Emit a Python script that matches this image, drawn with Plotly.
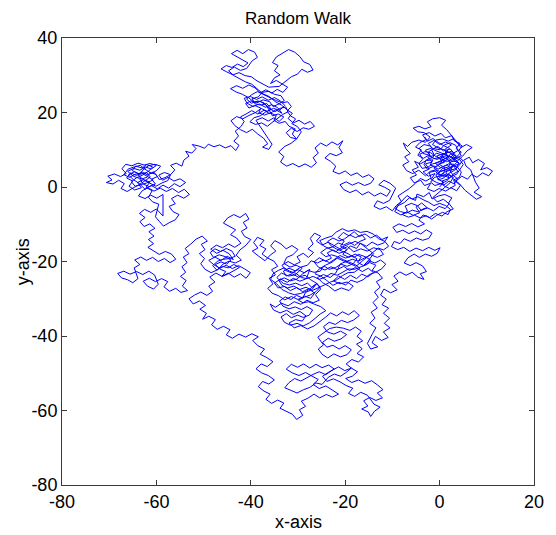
import plotly.graph_objects as go

# Traced positions of the 2-D random walk, grouped by the region of the plane they wander through.
right_cluster = [
    (0, 0), (0.9, 1.3), (-0.4, 2.1), (0.7, 3.2), (2.0, 2.5), (1.3, 4.1), (2.7, 4.7), (1.6, 5.9), (0.2, 5.2),
    (-0.9, 6.4), (0.4, 7.1), (-0.6, 8.3), (0.9, 9.0), (2.1, 7.7), (3.1, 8.9), (2.3, 10.2), (0.8, 9.7),
    (-0.4, 10.9), (-1.7, 10.0), (-1.1, 8.5), (-2.5, 8.0), (-1.6, 6.7), (-3.0, 6.2), (-2.2, 4.8), (-3.5, 4.1),
    (-2.4, 2.9), (-1.0, 3.6), (-1.8, 2.0), (-0.6, 1.2), (0.9, 0.5), (2.0, 1.6), (3.1, 0.8), (3.8, 2.2),
    (2.7, 3.3), (3.9, 4.2), (3.0, 5.6), (4.2, 6.3), (3.3, 7.5), (1.9, 6.9), (2.8, 5.7), (1.4, 4.7), (0.1, 4.1),
    (-1.2, 5.0), (-0.3, 6.1), (1.0, 6.6), (0.3, 8.1), (1.6, 8.4), (1.1, 10.1), (2.5, 11.3), (1.3, 12.1),
    (0.0, 11.4), (-1.2, 12.5), (-2.4, 11.7), (-1.6, 10.5), (-3.0, 9.9), (-2.1, 8.7), (-3.4, 7.7), (-4.6, 8.5),
    (-3.9, 10.0), (-5.1, 10.7), (-4.2, 11.9), (-2.9, 12.7), (-3.6, 14.0), (-2.2, 14.6), (-1.0, 13.7),
    (0.3, 14.4), (1.2, 13.2), (2.6, 13.8), (3.1, 12.4), (4.3, 11.7), (3.5, 10.3), (4.6, 9.4), (3.7, 8.2),
    (2.3, 8.9), (1.6, 7.3), (0.4, 6.5), (-0.7, 5.4), (-2.0, 5.9), (-1.4, 7.3), (-2.8, 7.1), (-4.1, 6.2),
    (-5.3, 6.9), (-4.5, 5.3), (-5.8, 4.6), (-4.9, 3.2), (-6.2, 2.5), (-5.4, 1.1), (-4.0, 1.8), (-3.2, 0.4),
    (-1.9, 1.0), (-2.6, -0.5), (-1.2, -1.2), (-0.1, -0.4), (1.3, -1.1), (2.4, -0.2), (3.6, -1.0), (4.4, 0.4),
    (3.4, 1.5), (4.7, 2.9), (5.9, 2.1), (6.8, 3.4), (7.9, 2.6), (9.1, 3.8), (10.4, 3.0), (11.2, 4.3),
    (10.0, 5.2), (8.7, 4.6), (9.5, 6.3), (8.2, 7.4), (7.0, 6.5), (6.3, 8.0), (5.1, 7.2), (5.6, 5.6),
    (6.6, 4.6), (7.6, 1.3), (8.4, -0.3), (7.3, -1.4), (8.9, -2.6), (7.8, -3.3), (6.5, -2.0), (5.4, -0.9),
    (4.2, 0.9), (3.0, 2.0), (2.1, 3.4), (0.8, 2.8), (-0.3, 3.5), (0.5, 4.9), (1.9, 5.4), (2.4, 6.8),
    (3.8, 7.0), (4.9, 8.3), (5.8, 9.7), (6.9, 10.6), (5.7, 11.4), (4.5, 10.6), (3.6, 12.2), (2.4, 13.9),
    (1.5, 15.4), (0.4, 16.6), (1.3, 17.9), (0.0, 18.6), (-1.5, 18.3), (-2.6, 17.5), (-1.8, 16.2),
    (-3.1, 15.6), (-4.4, 16.3), (-5.6, 15.8), (-4.6, 14.8), (-3.3, 14.6), (-2.0, 13.4), (-3.0, 12.0),
    (-4.4, 12.6), (-5.9, 12.0), (-6.8, 10.9), (-7.7, 11.8), (-7.1, 10.2), (-6.2, 9.0), (-7.4, 8.1),
    (-6.5, 6.8), (-7.8, 5.9), (-7.0, 4.4), (-5.7, 3.6), (-4.4, 4.5), (-3.0, 3.0), (-2.0, 4.2), (-0.8, 4.6),
    (0.3, 3.0), (1.5, 3.5), (2.9, 2.6), (2.2, 1.1), (1.0, -0.2), (-0.3, -1.5), (-1.4, -2.8), (-0.5, -4.0),
    (0.8, -3.3), (2.0, -4.5), (1.2, -5.8), (-0.1, -5.2), (-1.3, -6.4), (-2.6, -5.6),
]

right_middle = [
    (-2.6, -5.6), (-3.9, -6.3), (-4.7, -5.0), (-6.0, -4.4), (-7.3, -5.1), (-6.8, -6.5), (-7.9, -7.4),
    (-6.6, -8.1), (-5.3, -7.6), (-4.1, -8.3), (-2.8, -7.7), (-1.7, -8.6), (-0.6, -7.6), (0.6, -6.8),
    (1.8, -7.4), (2.3, -6.0), (1.3, -5.0), (0.0, -4.4), (-1.2, -5.0), (-2.3, -4.1), (-3.5, -3.4), (-4.6, -2.6),
    (-5.8, -3.2), (-6.9, -2.3), (-7.8, -3.5), (-8.6, -4.7), (-9.4, -5.8), (-8.3, -6.6), (-7.0, -7.0),
    (-5.8, -6.2), (-4.5, -6.7), (-3.4, -5.8), (-2.6, -5.6),
]

right_descent = [
    (-2.6, -5.6), (-3.8, -4.3), (-5.0, -5.4), (-4.2, -6.9), (-5.6, -7.6), (-6.9, -6.7), (-8.2, -7.5),
    (-9.5, -6.6), (-8.8, -5.0), (-7.5, -4.2), (-6.4, -2.9), (-5.1, -3.6), (-4.8, -1.9), (-3.4, -2.6),
    (-2.2, -1.5), (-1.6, -3.2), (-0.2, -2.4), (1.1, -2.0), (2.6, -2.9), (1.9, -4.3), (2.9, -5.9), (1.6, -6.6),
    (0.5, -7.8), (-0.9, -7.1), (-2.1, -8.2), (-3.5, -7.5), (-4.4, -8.9), (-3.2, -9.9), (-4.6, -10.7),
    (-5.9, -9.8), (-7.2, -10.6), (-8.6, -9.9), (-9.9, -10.8), (-9.1, -12.2), (-7.8, -11.6), (-6.5, -12.5),
    (-5.3, -11.8), (-4.0, -12.6), (-2.8, -11.5), (-1.6, -12.4), (-2.3, -13.8), (-3.6, -14.3), (-4.9, -13.7),
    (-6.2, -14.6), (-7.5, -13.9), (-8.4, -15.2), (-9.6, -14.6), (-10.2, -16.0), (-8.9, -16.8), (-7.6, -16.2),
    (-6.3, -17.3), (-5.0, -16.4), (-3.6, -17.1), (-2.3, -16.2), (-1.0, -17.0), (0.1, -16.3), (-0.5, -17.8),
    (-1.7, -18.6), (-3.0, -18.0), (-4.3, -18.9), (-5.4, -18.0), (-6.7, -19.0), (-7.5, -20.4), (-6.2, -21.1),
    (-5.0, -20.3), (-3.6, -21.2), (-2.8, -22.7), (-4.1, -23.3), (-3.3, -24.8), (-4.6, -24.2), (-5.8, -22.9),
    (-7.1, -23.7), (-8.4, -22.8), (-9.7, -23.9), (-8.8, -25.3), (-10.1, -26.2), (-9.0, -27.6), (-10.4, -28.4),
    (-11.8, -27.4), (-12.5, -29.0), (-11.3, -30.1), (-12.2, -31.6), (-10.8, -32.5), (-11.9, -33.9),
    (-10.6, -35.2), (-11.7, -36.6), (-10.5, -37.8), (-11.9, -38.9), (-10.9, -40.4), (-12.3, -41.2),
    (-13.6, -40.1), (-14.3, -41.8), (-13.1, -42.9), (-14.6, -43.5), (-15.3, -42.0), (-14.2, -39.3),
    (-13.5, -37.8), (-14.8, -36.6), (-13.7, -35.2), (-14.5, -33.6), (-13.2, -32.5), (-14.1, -31.0),
    (-13.0, -29.6), (-13.8, -28.2), (-12.6, -26.9), (-13.4, -25.4), (-12.1, -24.5), (-13.0, -23.1),
    (-14.3, -22.4), (-13.5, -21.0), (-14.8, -20.3), (-16.1, -21.1),
]

middle_right_core = [
    (-16.1, -21.1), (-15.0, -19.8), (-13.7, -20.4), (-12.5, -19.6), (-11.4, -20.7), (-12.3, -22.0),
    (-13.6, -22.9), (-14.9, -23.5), (-16.2, -24.9), (-17.5, -25.6), (-18.8, -25.0), (-19.9, -26.3),
    (-21.3, -25.6), (-22.6, -26.4), (-23.9, -25.1), (-25.1, -24.0), (-26.4, -23.3), (-25.5, -22.0),
    (-24.2, -21.0), (-22.8, -20.2), (-21.7, -19.1), (-20.3, -19.8), (-19.0, -20.6), (-17.7, -21.3),
    (-16.5, -20.0), (-15.4, -18.9), (-14.2, -17.6), (-13.0, -16.4), (-11.9, -16.9), (-10.8, -15.9),
    (-11.6, -14.6), (-12.9, -13.9), (-14.1, -12.6), (-15.4, -11.9), (-16.8, -12.2), (-18.0, -11.5),
    (-19.4, -11.9), (-20.6, -11.2), (-21.9, -12.1), (-22.8, -13.2), (-24.1, -13.7), (-25.4, -14.4),
    (-24.6, -15.8), (-23.3, -16.5), (-22.0, -17.4), (-20.6, -16.1), (-19.2, -15.4), (-17.9, -14.6),
    (-16.6, -15.3), (-15.3, -16.6), (-14.0, -17.9), (-14.8, -19.3), (-16.1, -21.1),
]

middle_right = [
    (-16.1, -21.1), (-17.4, -20.2), (-16.6, -18.8), (-17.9, -18.0), (-19.2, -18.9), (-20.5, -18.1),
    (-19.7, -16.7), (-21.0, -15.9), (-20.2, -14.5), (-21.5, -13.6), (-20.4, -12.2), (-19.2, -13.1),
    (-18.1, -12.0), (-17.0, -13.3), (-15.8, -12.6), (-14.6, -13.7), (-13.4, -12.9), (-12.2, -14.1),
    (-11.0, -13.4), (-11.8, -15.0), (-13.1, -15.6), (-14.3, -14.8), (-15.5, -15.9), (-16.8, -15.1),
    (-17.6, -16.5), (-18.9, -15.8), (-19.9, -17.2), (-21.3, -17.8), (-22.6, -16.9), (-23.8, -17.7),
    (-22.9, -19.1), (-24.2, -19.9), (-25.5, -19.0), (-26.6, -20.1), (-25.7, -21.5), (-24.3, -22.3),
    (-23.0, -21.4), (-21.7, -22.2), (-20.3, -21.3), (-19.1, -22.4), (-17.8, -21.6), (-16.4, -22.7),
    (-15.1, -21.8), (-14.0, -23.0), (-15.2, -24.1), (-16.5, -23.4), (-17.6, -24.6), (-18.9, -23.7),
    (-20.1, -24.8), (-21.4, -23.9), (-22.5, -25.2), (-21.1, -26.0), (-19.6, -25.5), (-18.3, -26.6),
    (-19.2, -27.8), (-20.8, -27.1), (-22.2, -27.9), (-23.5, -26.6), (-24.8, -25.7), (-25.9, -24.3),
    (-24.6, -23.5), (-23.2, -24.3), (-22.0, -23.1), (-21.0, -20.6), (-19.8, -20.0), (-18.5, -19.4),
    (-17.2, -19.9), (-15.9, -19.1), (-14.6, -18.2), (-13.2, -18.9), (-11.9, -18.1), (-12.6, -16.8),
    (-14.0, -16.3), (-15.3, -17.2), (-16.7, -16.6), (-18.2, -17.4), (-19.5, -16.0), (-20.9, -16.8),
    (-22.3, -15.7), (-23.6, -14.8), (-24.9, -15.6), (-26.1, -14.5), (-25.2, -13.2), (-26.5, -12.4),
    (-27.4, -13.8), (-26.8, -15.3), (-27.9, -16.6), (-26.7, -17.6), (-27.8, -18.9), (-28.9, -17.8),
]

middle_center = [
    (-28.9, -17.8), (-30.2, -18.7), (-29.5, -20.1), (-30.8, -20.9), (-32.1, -20.0), (-33.4, -21.0),
    (-32.6, -22.4), (-31.3, -23.1), (-30.0, -22.2), (-28.7, -23.0), (-27.5, -22.1), (-28.2, -24.6),
    (-29.6, -25.3), (-31.0, -24.5), (-32.3, -25.6), (-33.7, -24.7), (-35.0, -25.8), (-34.2, -27.1),
    (-32.9, -26.7), (-31.6, -27.8), (-30.3, -27.0), (-29.0, -28.1), (-27.7, -27.3), (-26.5, -28.5),
    (-27.3, -29.9), (-28.6, -29.3), (-30.0, -30.2), (-31.4, -29.4), (-32.8, -30.3), (-34.1, -29.2),
    (-35.5, -28.5), (-36.4, -27.2), (-35.3, -26.0), (-36.1, -24.5), (-34.8, -23.6), (-35.6, -22.2),
    (-34.3, -21.3), (-35.1, -19.9), (-36.4, -19.1), (-37.6, -18.0), (-36.8, -16.6), (-38.1, -15.7),
    (-37.2, -14.3), (-38.6, -13.5), (-39.4, -14.9), (-38.5, -16.4), (-39.7, -17.2), (-38.3, -18.6),
    (-37.0, -19.8), (-35.9, -18.3), (-34.7, -17.2), (-35.8, -15.8), (-34.9, -14.4), (-33.6, -15.3),
    (-32.5, -16.6), (-31.3, -15.7), (-30.0, -16.8), (-31.1, -18.2), (-32.4, -18.9), (-33.0, -20.5),
    (-31.7, -21.5), (-30.4, -21.0), (-29.1, -21.8), (-30.6, -23.6), (-32.0, -23.9), (-33.5, -23.1),
    (-34.5, -24.3), (-33.1, -25.9), (-31.8, -26.3), (-30.5, -25.8), (-29.2, -26.5), (-28.0, -25.8),
    (-27.1, -26.9), (-26.0, -25.9),
]

middle_core = [
    (-26.0, -25.9), (-27.3, -24.9), (-28.5, -23.7), (-29.9, -24.2), (-31.2, -23.3), (-32.5, -23.9),
    (-33.1, -22.6), (-31.9, -21.8), (-30.6, -22.5), (-29.4, -21.5), (-28.0, -21.0), (-27.2, -19.8),
    (-25.9, -20.4), (-24.6, -19.6), (-23.3, -20.3), (-22.2, -19.4), (-21.1, -18.4), (-19.9, -19.1),
    (-18.6, -18.4), (-17.5, -19.3), (-18.3, -20.6), (-19.6, -21.3), (-20.9, -20.7), (-22.0, -21.6),
    (-23.4, -22.1), (-24.5, -21.2), (-25.3, -22.6), (-26.6, -22.9), (-27.9, -22.4), (-29.1, -23.4),
    (-30.2, -24.7), (-31.6, -25.2), (-32.9, -24.4), (-34.1, -25.0), (-33.4, -26.4), (-32.2, -27.1),
    (-30.9, -26.6), (-29.6, -27.5), (-28.3, -26.9), (-27.0, -27.8), (-25.8, -27.2), (-24.4, -26.3),
    (-23.1, -25.5), (-21.8, -24.9), (-20.6, -23.8), (-19.4, -23.0), (-18.1, -22.9), (-16.9, -21.8),
    (-17.8, -20.9), (-19.1, -20.3), (-20.4, -19.5), (-21.6, -18.7), (-22.9, -18.2), (-24.1, -18.7),
    (-25.2, -17.6), (-24.0, -16.5), (-22.7, -16.1), (-21.5, -15.0), (-20.3, -15.6), (-19.1, -14.8),
    (-18.0, -15.7), (-16.9, -14.6), (-15.7, -14.0), (-16.5, -12.8), (-17.8, -13.6), (-19.0, -12.9),
    (-20.1, -13.9), (-21.3, -14.5), (-22.6, -13.7), (-23.7, -14.6), (-23.0, -15.8), (-21.9, -16.6),
    (-20.7, -17.3), (-19.4, -17.9), (-18.2, -18.9), (-17.1, -18.1), (-15.8, -18.7), (-14.6, -19.6),
    (-15.4, -20.8), (-16.7, -21.4), (-18.0, -22.1), (-19.3, -22.0), (-20.5, -22.8), (-21.7, -23.7),
    (-23.0, -23.2), (-24.2, -24.2), (-25.5, -24.8), (-26.8, -24.0), (-28.1, -24.6), (-29.3, -24.3),
    (-30.4, -23.2), (-31.8, -22.6), (-32.9, -21.7), (-34.2, -22.4), (-35.3, -23.3), (-35.8, -24.8),
    (-34.6, -25.9), (-33.4, -27.5), (-32.0, -28.4), (-30.8, -28.9), (-29.5, -28.6), (-28.2, -28.0),
    (-27.0, -26.9), (-26.0, -25.9),
]

lower_core = [
    (-26.0, -25.9), (-27.1, -27.6), (-28.4, -28.3), (-29.0, -29.8), (-30.3, -29.1), (-31.5, -30.2),
    (-32.7, -29.5), (-33.9, -30.6), (-33.2, -32.0), (-31.9, -32.7), (-30.6, -32.2), (-29.3, -32.9),
    (-28.1, -32.1), (-26.9, -33.0), (-27.6, -34.4), (-28.9, -35.0), (-30.1, -34.4), (-31.4, -35.1),
    (-32.5, -34.0), (-33.6, -34.9), (-32.9, -36.3), (-31.6, -37.1), (-30.2, -36.6), (-28.9, -37.3),
    (-27.6, -36.5), (-26.4, -35.3), (-25.3, -34.1), (-24.1, -33.2), (-25.2, -32.1), (-26.5, -31.5),
    (-27.8, -30.8), (-28.9, -31.1), (-29.9, -30.4), (-28.7, -29.6), (-27.4, -29.0), (-26.2, -28.1),
    (-25.3, -26.9), (-26.0, -25.9),
]

middle_lower = [
    (-26.0, -25.9), (-25.2, -27.4), (-26.3, -28.9), (-25.5, -30.4), (-26.8, -31.1), (-28.1, -30.4),
    (-29.4, -31.5), (-30.8, -30.8), (-32.1, -31.9), (-33.5, -31.2), (-34.8, -32.3), (-35.9, -31.4),
    (-35.2, -33.0), (-33.8, -33.8), (-32.4, -33.1), (-31.0, -34.2), (-29.6, -33.4), (-28.3, -34.6),
    (-29.1, -36.0), (-30.5, -35.6), (-31.9, -36.5), (-30.8, -37.8), (-29.4, -37.2), (-28.0, -38.1),
    (-26.6, -37.3), (-25.4, -36.2), (-24.2, -35.0), (-23.1, -33.8), (-21.8, -34.6), (-20.6, -33.5),
    (-19.3, -34.3), (-18.1, -33.2), (-17.0, -34.5), (-18.2, -35.7), (-19.5, -36.4), (-20.8, -35.8),
    (-22.1, -36.9), (-23.4, -36.3), (-24.6, -37.5), (-23.8, -38.9), (-22.4, -39.5), (-21.0, -38.7),
    (-19.7, -39.6), (-20.9, -40.8), (-22.3, -41.4), (-23.6, -40.6), (-24.8, -41.7), (-23.9, -43.0),
    (-22.6, -42.5), (-21.3, -43.5), (-20.0, -42.6), (-18.7, -43.7), (-19.6, -45.0), (-21.0, -45.6),
    (-22.4, -44.8), (-23.7, -45.9), (-24.9, -44.9), (-25.7, -43.5), (-24.6, -42.4), (-25.8, -40.3),
    (-24.7, -39.2), (-23.3, -38.0), (-21.9, -37.6), (-20.4, -37.9), (-19.0, -38.5), (-17.8, -37.6),
    (-16.6, -38.7), (-17.5, -40.1), (-16.3, -41.3), (-17.6, -42.2), (-16.4, -43.4), (-17.5, -44.7),
    (-16.1, -45.6), (-17.2, -47.0), (-18.6, -46.3), (-19.8, -47.5), (-18.7, -48.6),
]

bottom_core = [
    (-18.7, -48.6), (-20.1, -49.3), (-21.4, -48.3), (-22.8, -49.2), (-24.1, -50.4), (-25.5, -49.6),
    (-26.8, -50.3), (-28.1, -51.2), (-29.4, -52.1), (-30.7, -51.4), (-31.9, -52.5), (-32.8, -53.9),
    (-31.5, -54.6), (-30.2, -55.3), (-28.8, -54.4), (-27.5, -53.8), (-26.2, -52.6), (-24.9, -53.0),
    (-23.6, -51.1), (-22.3, -50.2), (-21.0, -50.8), (-19.8, -49.8), (-18.7, -48.6),
]

bottom = [
    (-18.7, -48.6), (-17.4, -49.6), (-18.5, -50.8), (-19.9, -51.4), (-18.6, -52.5), (-17.2, -51.8),
    (-15.8, -52.7), (-14.4, -52.0), (-13.1, -53.2), (-12.0, -54.4), (-13.2, -55.3), (-12.1, -56.6),
    (-13.5, -57.3), (-14.8, -56.5), (-16.1, -57.4), (-15.2, -58.8), (-16.5, -59.6), (-15.1, -60.4),
    (-14.6, -61.6), (-13.8, -60.2), (-12.6, -59.1), (-13.9, -58.3), (-15.3, -55.9), (-16.7, -55.1),
    (-18.0, -56.2), (-19.3, -55.4), (-18.4, -54.0), (-19.8, -53.3), (-21.1, -52.3), (-22.5, -51.5),
    (-23.9, -52.2), (-24.8, -50.8), (-23.6, -49.8), (-22.3, -48.9), (-23.5, -47.8), (-24.9, -48.5),
    (-26.2, -47.6), (-27.5, -48.6), (-28.8, -47.5), (-30.1, -48.4), (-31.4, -47.6), (-32.5, -48.9),
    (-31.2, -49.9), (-29.8, -50.6), (-28.4, -49.8), (-27.0, -50.9), (-25.7, -51.7), (-26.8, -53.0),
    (-25.5, -54.1), (-24.1, -53.4), (-22.8, -54.5), (-21.4, -55.6), (-22.7, -56.4), (-24.0, -55.7),
    (-25.4, -56.6), (-26.6, -55.6), (-27.9, -56.7), (-29.3, -57.5), (-28.4, -58.9), (-29.7, -59.8),
    (-29.0, -61.3), (-30.3, -62.4), (-31.2, -61.0), (-32.5, -60.3), (-33.8, -59.4), (-33.0, -58.0),
    (-34.3, -57.2), (-35.6, -58.1), (-36.8, -57.0), (-35.9, -55.6), (-37.2, -54.8), (-38.4, -53.6),
    (-37.5, -52.2), (-36.2, -52.9), (-35.0, -51.8), (-36.3, -50.6), (-37.7, -49.9), (-38.9, -48.8),
    (-37.8, -47.5), (-36.5, -48.2), (-35.3, -46.9), (-36.6, -45.8), (-38.0, -44.9), (-37.1, -43.5),
    (-38.5, -42.6), (-39.6, -41.2), (-38.4, -40.2),
]

middle_lower_left = [
    (-38.4, -40.2), (-39.8, -39.4), (-41.1, -40.3), (-42.5, -39.5), (-43.9, -40.6), (-45.2, -39.7),
    (-44.4, -38.3), (-45.8, -37.4), (-47.1, -38.2), (-48.3, -37.0), (-47.5, -35.6), (-48.9, -34.7),
    (-50.2, -35.5), (-49.4, -33.9), (-50.8, -32.8), (-49.6, -31.8), (-50.9, -30.6), (-52.2, -31.4),
    (-53.1, -30.0), (-51.9, -29.0), (-50.6, -28.2), (-49.3, -29.1), (-48.1, -28.0), (-48.9, -26.6),
    (-47.6, -25.5), (-48.7, -24.2), (-47.4, -23.1), (-46.1, -24.0),
]

middle_left_core = [
    (-46.1, -24.0), (-45.3, -22.7), (-46.6, -22.0), (-47.5, -20.8), (-46.3, -20.1), (-45.1, -20.7),
    (-44.2, -19.6), (-45.4, -18.7), (-46.7, -18.2), (-47.9, -18.9), (-48.6, -17.6), (-47.6, -16.6),
    (-46.4, -17.3), (-45.2, -16.5), (-44.0, -17.2), (-43.3, -18.6), (-44.5, -19.2), (-45.8, -19.4),
    (-47.0, -19.9), (-48.1, -21.1), (-47.2, -22.3), (-46.0, -21.3), (-44.8, -21.7), (-43.6, -20.8),
    (-42.4, -21.6), (-43.6, -22.5), (-44.9, -23.4), (-46.1, -24.0),
]

middle_left = [
    (-46.1, -24.0), (-44.8, -23.1), (-43.5, -24.2), (-42.2, -23.3), (-41.0, -24.5), (-40.1, -23.0),
    (-41.3, -22.0), (-42.6, -21.1), (-43.9, -21.9), (-45.2, -21.0), (-46.5, -21.8), (-47.8, -20.9),
    (-48.9, -19.7), (-47.6, -18.8), (-46.3, -19.7), (-45.0, -18.6), (-43.7, -19.5), (-44.6, -17.9),
    (-45.9, -17.0), (-47.2, -17.8), (-48.5, -16.7), (-47.3, -15.6), (-46.0, -16.3), (-44.7, -15.3),
    (-43.4, -16.2), (-42.1, -15.1), (-43.0, -13.7), (-44.3, -12.8), (-43.2, -11.5), (-44.5, -10.6),
    (-45.8, -9.7), (-44.9, -8.3), (-43.6, -7.4), (-42.3, -8.2), (-41.1, -7.1), (-40.4, -8.6), (-41.6, -9.5),
    (-40.8, -11.0), (-42.0, -11.9), (-41.3, -13.3), (-40.0, -14.1), (-41.0, -15.6), (-42.3, -16.9),
    (-43.1, -18.3), (-42.0, -19.6), (-43.3, -20.4), (-44.6, -19.9), (-45.9, -20.7), (-47.0, -22.2),
    (-48.4, -23.0), (-49.7, -22.1), (-50.6, -20.6), (-49.8, -19.2), (-50.9, -17.9), (-49.7, -16.8),
    (-50.5, -15.4), (-49.2, -14.5), (-50.3, -13.2), (-51.6, -14.0), (-52.7, -15.3),
]

left_lower = [
    (-52.7, -15.3), (-53.9, -16.5), (-53.1, -17.9), (-54.3, -18.8), (-53.5, -20.3), (-54.6, -21.4),
    (-53.8, -22.9), (-54.9, -24.0), (-53.7, -25.1), (-54.5, -26.6), (-53.4, -27.8), (-54.8, -28.3),
    (-55.9, -27.2), (-57.2, -28.0), (-58.4, -26.8), (-57.6, -25.4), (-58.9, -24.6), (-60.2, -25.4),
    (-61.5, -24.5), (-62.8, -25.3), (-61.9, -26.6), (-60.6, -27.4), (-59.6, -26.1), (-60.4, -23.6),
    (-61.6, -22.6), (-62.9, -23.5), (-64.2, -22.7), (-65.6, -23.4), (-66.9, -22.6), (-68.2, -23.2),
    (-67.4, -24.4), (-66.1, -24.9), (-65.0, -25.7), (-63.9, -24.6), (-64.7, -21.7), (-63.5, -20.8),
    (-64.6, -19.6), (-63.3, -18.8), (-62.1, -19.7), (-60.8, -18.9), (-59.6, -20.0), (-58.3, -19.2),
    (-57.1, -20.3), (-55.9, -19.4), (-56.8, -18.0), (-58.1, -17.3), (-59.4, -18.1), (-60.7, -17.1),
    (-61.8, -16.2), (-60.6, -15.2), (-61.7, -14.1),
]

left_ascent = [
    (-61.7, -14.1), (-60.5, -13.2), (-61.6, -12.0), (-60.3, -11.1), (-61.4, -9.9), (-62.6, -10.6),
    (-63.5, -9.3), (-62.4, -8.2), (-63.6, -7.1), (-62.5, -6.0), (-61.2, -6.8), (-60.0, -5.9), (-58.6, -7.8),
    (-58.6, -2.0), (-59.9, -3.0), (-61.2, -2.2), (-62.4, -3.1), (-63.8, -2.4), (-63.0, -1.0), (-61.8, -0.2),
    (-60.5, -1.1), (-59.2, -0.3), (-57.9, -1.2), (-56.6, -0.4), (-55.3, -1.5), (-54.1, -0.6), (-53.0, -2.0),
    (-54.2, -3.0), (-55.5, -2.2), (-56.8, -3.1), (-56.0, -4.5), (-57.3, -5.2), (-56.5, -6.6), (-55.2, -7.4),
    (-56.0, -8.8), (-57.3, -9.6), (-58.5, -10.5), (-59.4, -9.2), (-60.2, -8.0), (-59.5, -4.6), (-60.8, -4.0),
    (-61.7, -2.8), (-60.9, -1.0),
]

left_cluster = [
    (-60.9, -1.0), (-62.2, -0.1), (-61.4, 1.3), (-62.7, 2.0), (-64.0, 1.2), (-63.2, -0.2), (-64.6, -0.8),
    (-65.8, 0.2), (-65.0, 1.6), (-66.3, 2.4), (-65.5, 3.8), (-64.2, 3.1), (-63.0, 4.0), (-61.8, 3.2),
    (-60.6, 4.1), (-59.8, 2.8), (-61.0, 2.1), (-60.2, 0.8), (-61.5, 0.1), (-62.8, 0.8), (-63.6, 2.3),
    (-64.9, 2.9), (-66.1, 4.2), (-64.8, 5.0), (-63.5, 4.5), (-62.3, 5.4), (-61.1, 4.8), (-60.0, 5.8),
    (-61.3, 6.3), (-62.6, 5.9), (-63.9, 6.4), (-65.2, 5.7), (-66.5, 6.1), (-67.3, 4.9), (-66.4, 3.6),
    (-67.6, 2.8), (-68.9, 3.5), (-70.3, 2.9), (-69.4, 1.9), (-70.6, 1.2), (-69.2, 0.8), (-68.0, 1.8),
    (-66.8, 0.9), (-67.5, -0.4), (-66.2, -1.2), (-65.0, -0.3), (-63.8, 0.5), (-62.5, 1.6), (-61.3, 2.7),
    (-62.1, 3.9), (-63.4, 3.4), (-64.7, 4.1), (-65.9, 3.2), (-64.9, 2.0), (-63.7, 1.0), (-62.4, -0.6),
    (-61.1, 0.4), (-59.8, -0.5), (-58.6, 0.5), (-57.4, -0.3), (-56.2, 0.9), (-55.0, 0.1), (-53.8, 1.2),
    (-55.0, 2.2), (-56.3, 1.6), (-57.5, 2.6), (-58.7, 1.8), (-59.5, 3.2), (-58.3, 3.9), (-57.0, 3.3),
]

left_core = [
    (-57.0, 3.3), (-58.2, 2.5), (-59.4, 2.0), (-60.1, 3.4), (-61.4, 3.9), (-62.0, 2.6), (-63.3, 2.1),
    (-63.9, 3.6), (-65.1, 4.4), (-64.4, 5.6), (-63.0, 5.1), (-62.1, 6.0), (-60.8, 5.4), (-61.6, 4.3),
    (-62.9, 3.2), (-64.2, 2.5), (-65.3, 1.4), (-64.5, 0.2), (-63.1, 0.7), (-62.0, 1.1), (-60.7, 1.9),
    (-61.9, 2.9), (-63.2, 3.8), (-64.5, 3.4), (-65.7, 2.6), (-66.9, 3.3), (-66.0, 4.8), (-64.7, 5.4),
    (-63.4, 5.8), (-62.2, 4.6), (-61.0, 3.6), (-59.9, 4.5), (-59.1, 5.6), (-60.3, 6.1), (-61.7, 5.7),
    (-62.9, 4.5), (-63.8, 3.1), (-62.6, 1.8), (-61.3, 1.0), (-60.1, 0.2), (-58.8, 1.1), (-57.6, 1.7),
    (-57.0, 3.3),
]

upper_branch = [
    (-57.0, 3.3), (-56.1, 4.6), (-57.0, 5.8), (-55.8, 6.4), (-54.6, 5.6), (-54.2, 7.2), (-53.1, 8.3),
    (-53.8, 9.6), (-52.5, 9.1), (-51.6, 10.3), (-52.4, 11.4), (-51.0, 11.0), (-49.8, 10.4), (-49.0, 11.5),
    (-47.8, 10.8), (-46.6, 11.3), (-45.4, 10.5), (-44.2, 11.1), (-43.2, 9.8), (-42.5, 11.2), (-43.6, 12.3),
    (-42.6, 13.7), (-43.3, 15.0), (-42.1, 16.2), (-41.4, 17.6), (-42.2, 18.8), (-41.0, 19.6), (-39.8, 20.5),
]

top_cluster = [
    (-39.8, 20.5), (-38.5, 19.6), (-37.2, 20.6), (-36.0, 19.7), (-34.7, 20.7), (-33.4, 19.8), (-34.3, 21.3),
    (-35.6, 22.1), (-36.9, 21.4), (-38.2, 22.3), (-39.5, 21.6), (-40.8, 22.5), (-41.4, 23.8), (-40.1, 24.3),
    (-38.8, 23.5), (-37.6, 24.2), (-36.3, 23.3), (-35.0, 24.0), (-33.7, 23.1), (-32.8, 21.9), (-33.9, 20.6),
    (-35.2, 21.1), (-36.5, 20.3), (-37.8, 21.1), (-39.0, 20.0), (-40.4, 19.2), (-41.7, 18.3), (-43.0, 18.9),
    (-44.2, 17.8), (-43.4, 16.5), (-42.2, 15.4), (-40.9, 14.6), (-39.7, 15.5), (-38.5, 14.2), (-37.3, 13.1),
    (-36.4, 11.6), (-37.5, 10.7), (-36.2, 10.1), (-35.5, 11.5), (-36.3, 13.0), (-37.1, 14.5), (-38.0, 16.0),
    (-38.9, 17.9), (-37.6, 18.6), (-36.3, 17.7), (-35.1, 18.6), (-34.0, 17.6), (-33.0, 18.8), (-34.2, 19.6),
    (-35.4, 19.1), (-36.7, 21.9), (-38.0, 23.0), (-39.3, 22.8), (-40.5, 24.0), (-41.8, 24.9), (-43.1, 25.5),
    (-44.3, 26.4), (-43.0, 27.2), (-41.7, 26.5), (-40.4, 27.4), (-39.1, 26.6), (-38.0, 25.3), (-36.8, 26.1),
    (-35.6, 25.2), (-34.4, 26.2), (-33.2, 25.4), (-32.2, 26.8), (-33.4, 27.7), (-34.6, 28.6), (-35.8, 27.8),
    (-35.0, 29.3), (-33.8, 30.1), (-35.0, 31.2), (-34.2, 32.6), (-35.4, 33.4), (-34.6, 34.9), (-33.3, 35.8),
    (-32.0, 36.9), (-30.7, 36.2), (-29.6, 35.0), (-28.8, 33.6), (-27.5, 32.9), (-26.8, 31.4), (-28.0, 30.8),
    (-29.2, 31.6), (-30.1, 30.3), (-31.4, 29.6), (-32.6, 28.5), (-34.0, 27.0), (-36.2, 26.8), (-37.5, 27.6),
    (-38.7, 28.5), (-39.9, 29.6), (-41.2, 29.9), (-42.5, 30.7), (-43.8, 30.1), (-45.1, 30.9), (-46.3, 31.7),
    (-45.2, 32.6), (-44.0, 32.1), (-42.8, 33.0), (-41.6, 32.3), (-40.6, 33.3), (-41.8, 34.2), (-43.0, 34.9),
    (-44.1, 35.8), (-42.9, 36.7), (-41.7, 35.8), (-40.5, 36.9), (-39.2, 36.2), (-38.6, 34.8), (-39.7, 33.9),
    (-40.9, 31.8), (-42.2, 31.3), (-43.5, 32.2), (-44.7, 31.2), (-43.6, 29.9), (-42.4, 29.0), (-41.1, 28.2),
    (-39.8, 27.6), (-38.6, 26.3), (-37.4, 25.0), (-36.1, 24.3), (-34.8, 22.9), (-33.5, 22.0), (-32.4, 20.8),
    (-31.2, 19.8), (-32.1, 18.4), (-31.0, 17.2), (-29.8, 17.9), (-28.6, 16.9), (-27.4, 17.6), (-26.5, 16.3),
    (-27.7, 15.5), (-28.9, 15.9), (-30.2, 14.9), (-31.4, 15.8), (-32.5, 14.6), (-31.6, 13.3), (-30.3, 12.9),
]

top_core = [
    (-30.3, 12.9), (-31.2, 14.2), (-30.6, 15.6), (-31.9, 16.3), (-32.7, 17.6), (-34.0, 17.1), (-35.1, 17.9),
    (-34.6, 19.2), (-35.9, 19.9), (-37.1, 19.3), (-38.3, 19.9), (-37.9, 21.2), (-39.2, 21.9), (-40.4, 21.2),
    (-41.1, 22.4), (-40.0, 23.1), (-38.7, 22.6), (-37.4, 23.4), (-36.0, 22.9), (-35.3, 21.6), (-34.0, 22.3),
    (-32.9, 23.2), (-33.6, 24.5), (-35.0, 24.9), (-36.2, 25.7), (-37.6, 25.4), (-38.4, 24.2), (-39.7, 23.7),
    (-39.1, 22.3), (-37.8, 22.0), (-36.6, 22.4), (-35.7, 20.9), (-36.9, 20.1), (-38.0, 19.1), (-39.3, 18.6),
    (-40.2, 17.5), (-39.0, 16.8), (-37.7, 17.2), (-36.5, 16.3), (-35.5, 17.3), (-34.3, 18.4), (-33.2, 19.5),
    (-32.1, 20.2), (-32.6, 21.5), (-33.8, 21.1), (-34.9, 20.2), (-36.2, 21.2), (-37.2, 22.6), (-38.5, 23.1),
    (-39.9, 22.5), (-40.9, 23.6), (-39.8, 24.8), (-38.6, 25.6), (-37.1, 24.6), (-35.8, 23.9), (-34.6, 23.2),
    (-33.3, 22.6), (-32.2, 22.9), (-31.4, 21.6), (-32.3, 20.4), (-31.6, 19.1), (-30.5, 18.3), (-31.3, 17.0),
    (-30.1, 16.2), (-29.3, 14.8), (-30.3, 12.9),
]

return_path = [
    (-30.3, 12.9), (-31.5, 11.7), (-32.8, 10.9), (-34.1, 9.4), (-33.0, 8.2), (-33.7, 6.7), (-32.4, 5.6),
    (-31.1, 6.3), (-29.8, 5.4), (-28.5, 6.2), (-27.2, 5.3), (-26.1, 6.5), (-26.8, 7.9), (-25.7, 9.1),
    (-26.4, 10.5), (-25.2, 11.8), (-24.0, 11.0), (-22.8, 12.1), (-21.6, 11.3), (-20.5, 12.4), (-21.3, 10.6),
    (-20.6, 9.2), (-21.9, 8.4), (-23.2, 9.0), (-24.3, 7.8), (-23.1, 6.9), (-22.0, 5.6), (-22.6, 4.2),
    (-21.3, 3.5), (-20.0, 4.3), (-18.8, 3.1), (-17.5, 3.8), (-16.3, 2.6), (-15.0, 3.3), (-13.9, 2.2),
    (-14.6, 1.0), (-15.9, 0.4), (-17.2, 1.2), (-18.5, 0.5), (-19.8, 1.4), (-21.1, 0.6), (-20.3, -0.7),
    (-19.0, -1.5), (-17.7, -0.8), (-16.4, -2.1), (-15.1, -1.3), (-13.8, -2.4), (-12.5, -1.6), (-11.2, -2.5),
    (-10.4, -1.0), (-11.6, -0.1), (-12.9, 0.6), (-11.8, 1.8), (-10.5, 1.0), (-9.3, -0.3), (-10.6, -3.6),
    (-11.9, -4.4), (-13.2, -3.7), (-13.9, -5.2), (-12.6, -6.0), (-11.3, -5.3), (-10.0, -6.4), (-9.2, -5.0),
    (-8.1, -3.9), (-8.8, -2.4), (-7.6, -1.5), (-6.4, -0.4), (-5.2, 0.9), (-4.1, 2.3), (-2.9, 1.6),
]

right_core = [
    (-2.9, 1.6), (-1.8, 2.4), (-2.2, 3.9), (-0.9, 4.3), (-0.2, 3.1), (0.9, 3.7), (1.1, 5.2), (0.0, 6.0),
    (0.6, 7.3), (1.9, 7.9), (1.3, 9.1), (2.6, 9.6), (3.4, 8.5), (3.0, 7.1), (4.1, 6.4), (3.5, 5.0), (2.2, 4.4),
    (2.9, 3.1), (1.8, 2.2), (0.5, 1.6), (0.9, 0.3), (2.1, -0.4), (3.3, 0.4), (3.0, 1.9), (4.2, 2.6), (4.6, 4.0),
    (3.8, 5.3), (2.5, 5.9), (2.0, 7.2), (0.7, 8.0), (-0.6, 7.4), (-1.9, 8.1), (-2.4, 9.4), (-1.3, 10.3),
    (0.1, 10.0), (0.9, 11.2), (2.2, 11.9), (3.4, 11.2), (3.9, 9.8), (2.8, 9.0), (1.6, 9.4), (0.5, 8.6),
    (-0.7, 9.1), (-1.5, 7.9), (-2.8, 7.3), (-3.3, 6.0), (-2.6, 4.8), (-1.4, 5.5), (-0.3, 4.8), (0.8, 5.6),
    (1.9, 6.2), (3.1, 6.1), (2.4, 4.9), (1.2, 4.2), (0.1, 2.9), (-1.1, 2.6), (-1.9, 1.3), (-1.0, 0.4),
    (0.3, 0.9), (1.5, 1.6), (2.4, 2.9), (3.6, 3.4), (4.4, 4.7), (5.0, 6.0), (4.3, 7.3), (3.1, 7.9), (2.3, 9.1),
    (1.1, 9.9), (-0.3, 10.5), (-1.5, 11.4), (-0.8, 12.6), (0.6, 12.9), (1.8, 12.3), (2.9, 12.9), (3.7, 11.9),
    (4.8, 11.0), (4.0, 9.7), (4.6, 8.4), (3.4, 7.6), (2.0, 8.3), (0.9, 7.5), (-0.2, 6.6), (-1.5, 6.2),
    (-2.5, 5.3), (-3.7, 5.0), (-4.4, 6.3), (-3.6, 7.4), (-4.2, 8.8), (-3.1, 9.5), (-1.9, 9.2), (-0.8, 8.2),
    (0.3, 7.6), (1.5, 6.8), (2.6, 7.6), (3.9, 8.1), (4.9, 7.2), (4.2, 5.9), (3.2, 4.5), (2.0, 3.7), (1.0, 2.5),
    (-0.2, 1.9), (-0.8, 3.3), (0.2, 4.2), (1.6, 4.8), (2.8, 5.4), (3.6, 6.6), (2.7, 7.9), (1.4, 8.6),
    (0.2, 9.3), (-1.1, 9.9), (-2.0, 11.0), (-3.3, 11.4), (-4.3, 10.4), (-3.5, 9.0), (-2.3, 8.6), (-1.2, 7.6),
    (-0.1, 7.9), (1.0, 8.8), (2.1, 10.4), (1.0, 11.0), (-0.2, 11.9), (-1.4, 13.0), (-2.6, 12.3), (-3.1, 13.4),
]

segments = [right_cluster, right_middle, right_descent, middle_right_core, middle_right, middle_center,
            middle_core, lower_core, middle_lower, bottom_core, bottom, middle_lower_left, middle_left_core,
            middle_left, left_lower, left_ascent, left_cluster, left_core, upper_branch, top_cluster,
            top_core, return_path, right_core]

walk = [p for seg in segments for p in seg]
walk_x = [p[0] for p in walk]
walk_y = [p[1] for p in walk]

x_ticks = [-80, -60, -40, -20, 0, 20]
y_ticks = [-80, -60, -40, -20, 0, 20, 40]

FONT = "Liberation Sans, Arial, sans-serif"
AXIS_COLOR = "#3a3a3a"

fig = go.Figure(
    go.Scatter(x=walk_x, y=walk_y, mode="lines",
               line=dict(color="#0000ff", width=1), hoverinfo="skip")
)

axis_common = dict(
    showgrid=False, zeroline=False, showline=True, linecolor=AXIS_COLOR, linewidth=1,
    mirror="ticks", ticks="inside", ticklen=5, tickcolor=AXIS_COLOR, tickwidth=1,
    tickfont=dict(family=FONT, size=18, color="#000000"),
)

fig.update_layout(
    width=556, height=535,
    margin=dict(l=62, r=13, t=38, b=50),
    paper_bgcolor="white", plot_bgcolor="white",
    showlegend=False,
    title=dict(text="Random Walk", x=0.5, xref="paper", y=1 - 18 / 535, yref="container",
               xanchor="center", yanchor="middle",
               font=dict(family=FONT, size=17, color="#000000")),
    xaxis=dict(range=[-80, 20], tickvals=x_ticks, ticktext=[str(v) for v in x_ticks], **axis_common),
    yaxis=dict(range=[-80, 40], tickvals=y_ticks, ticktext=[str(v) for v in y_ticks], **axis_common),
    annotations=[
        dict(text="x-axis", x=0.5, y=-37 / 447, xref="paper", yref="paper",
             xanchor="center", yanchor="middle", showarrow=False,
             font=dict(family=FONT, size=18, color="#000000")),
        dict(text="y-axis", x=-40 / 481, y=0.5, xref="paper", yref="paper", textangle=-90,
             xanchor="center", yanchor="middle", showarrow=False,
             font=dict(family=FONT, size=18, color="#000000")),
    ],
)

fig.write_html("out.html")
